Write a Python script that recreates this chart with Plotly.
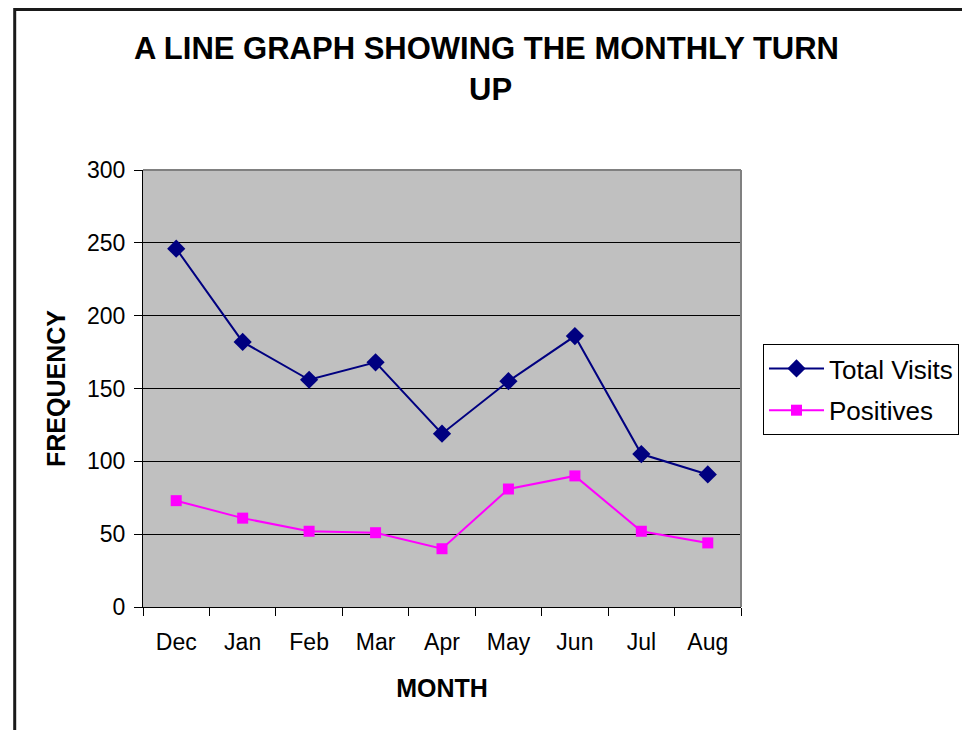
import plotly.graph_objects as go

months = ["Dec", "Jan", "Feb", "Mar", "Apr", "May", "Jun", "Jul", "Aug"]
total_visits = [246, 182, 156, 168, 119, 155, 186, 105, 91]
positives = [73, 61, 52, 51, 40, 81, 90, 52, 44]
y_ticks = [0, 50, 100, 150, 200, 250, 300]
title_lines = ["A LINE GRAPH SHOWING THE MONTHLY TURN", "UP"]

FONT = "Liberation Sans, Arial, sans-serif"

# page body has an 8px margin, so the figure is laid out in page px minus 8
OFF = 8
W, H = 970 - OFF, 730 - OFF
L = 143 - OFF
R = W - (742 - OFF)
T = 170 - OFF
B = H - (607 - OFF)
pw = W - L - R
ph = H - T - B


def px_x(p):
    return (p - OFF - L) / pw


def px_y(p):
    return (H - B - (p - OFF)) / ph


fig = go.Figure()
fig.add_trace(go.Scatter(
    x=months, y=total_visits, name="Total Visits", mode="lines+markers",
    line=dict(color="#000080", width=2),
    marker=dict(symbol="diamond", size=14, color="#000080"),
    legendgroup="a",
))
fig.add_trace(go.Scatter(
    x=months, y=positives, name="Positives", mode="lines+markers",
    line=dict(color="#FF00FF", width=2),
    marker=dict(symbol="square", size=11, color="#FF00FF"),
    legendgroup="b",
))

fig.update_layout(
    width=W, height=H,
    margin=dict(l=L, r=R, t=T, b=B),
    paper_bgcolor="white",
    plot_bgcolor="#C0C0C0",
    font=dict(family=FONT, color="black", size=23),
    xaxis=dict(
        type="category", range=[-0.5, 8.5],
        showline=True, linecolor="black", linewidth=1,
        ticks="outside", ticklen=8, tickcolor="black", tickson="boundaries",
        showgrid=False,
        tickfont=dict(size=23), ticklabelstandoff=14,
        title=dict(text="<b>MONTH</b>", font=dict(size=25), standoff=25),
    ),
    yaxis=dict(
        range=[0, 300], tickvals=y_ticks,
        showline=True, linecolor="black", linewidth=1,
        ticks="outside", ticklen=8, tickcolor="black",
        showgrid=True, gridcolor="black", gridwidth=1,
        zeroline=False,
        tickfont=dict(size=23), ticklabelstandoff=4,
        title=dict(text="<b>FREQUENCY</b>", font=dict(size=25), standoff=14),
    ),
    legend=dict(
        x=px_x(763), xanchor="left", y=px_y(344), yanchor="top",
        bgcolor="white", bordercolor="black", borderwidth=1,
        font=dict(size=26), itemwidth=55, tracegroupgap=5,
    ),
    showlegend=True,
    annotations=[
        dict(text="<b>" + title_lines[0] + "</b>", xref="paper", yref="paper",
             x=px_x(487.5), y=px_y(48), xanchor="center", yanchor="middle",
             showarrow=False, font=dict(size=31, family=FONT, color="black")),
        dict(text="<b>" + title_lines[1] + "</b>", xref="paper", yref="paper",
             x=px_x(491), y=px_y(90), xanchor="center", yanchor="middle",
             showarrow=False, font=dict(size=31, family=FONT, color="black")),
    ],
    shapes=[
        dict(type="line", xref="x domain", yref="y domain", x0=0, x1=1, y0=1, y1=1,
             line=dict(color="#808080", width=2), layer="above"),
        dict(type="line", xref="x domain", yref="y domain", x0=1, x1=1, y0=0, y1=1,
             line=dict(color="#808080", width=2), layer="above"),
        dict(type="rect", xref="paper", yref="paper",
             x0=px_x(14.5), x1=px_x(968.5), y0=px_y(745), y1=px_y(OFF + 1.5),
             line=dict(color="#1a1a1a", width=3), fillcolor="rgba(0,0,0,0)", layer="above"),
    ],
)

fig.write_html("out.html")
